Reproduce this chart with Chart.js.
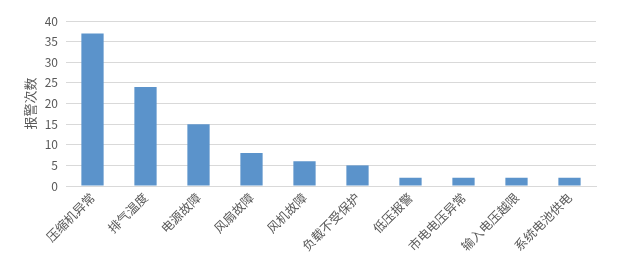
<!DOCTYPE html>
<html>
<head>
<meta charset="utf-8">
<script src="https://cdn.jsdelivr.net/npm/chart.js@4"></script>
<style>
  body { margin: 0; background: #fff; }
  #wrap { width: 631px; height: 278px; }
</style>
</head>
<body>
<div id="wrap"><canvas id="alarmChart" width="631" height="278"></canvas></div>
<script>
const categories = ["压缩机异常", "排气温度", "电源故障", "风扇故障", "风机故障", "负载不受保护", "低压报警", "市电电压异常", "输入电压越限", "系统电池供电"];
const alarmCounts = [37, 24, 15, 8, 6, 5, 2, 2, 2, 2];
const yTicks = [0, 5, 10, 15, 20, 25, 30, 35, 40];

Chart.defaults.font.family = "'Noto Sans CJK SC', 'DejaVu Serif', serif";

const barColor = "#5B93CB";
const gridColor = "#D9D9D9";
const textColor = "#595959";

new Chart(document.getElementById("alarmChart"), {
  type: "bar",
  data: {
    labels: categories,
    datasets: [
      {
        label: "报警次数",
        data: alarmCounts,
        backgroundColor: barColor,
        categoryPercentage: 0.84,
        barPercentage: 0.5,
      },
    ],
  },
  options: {
    responsive: false,
    animation: false,
    layout: { padding: { left: 0, right: 35, top: 21, bottom: 0 } },
    plugins: { legend: { display: false }, tooltip: { enabled: false } },
    scales: {
      x: {
        grid: { display: false, drawTicks: false },
        border: { color: gridColor },
        ticks: {
          color: textColor,
          font: { size: 12.5 },
          minRotation: 45,
          maxRotation: 45,
          autoSkip: false,
          padding: 4,
        },
        afterFit: (scale) => { scale.height = 92; },
      },
      y: {
        min: 0,
        max: 40,
        afterBuildTicks: (scale) => { scale.ticks = yTicks.map((v) => ({ value: v })); },
        grid: { color: gridColor, drawTicks: false },
        border: { display: false },
        ticks: { color: textColor, font: { size: 12 }, padding: 8 },
        title: {
          display: true,
          text: "报警次数",
          color: textColor,
          font: { size: 13 },
          padding: { top: 22, bottom: 0 },
        },
        afterFit: (scale) => { scale.width = 66; },
      },
    },
  },
});
</script>
</body>
</html>
